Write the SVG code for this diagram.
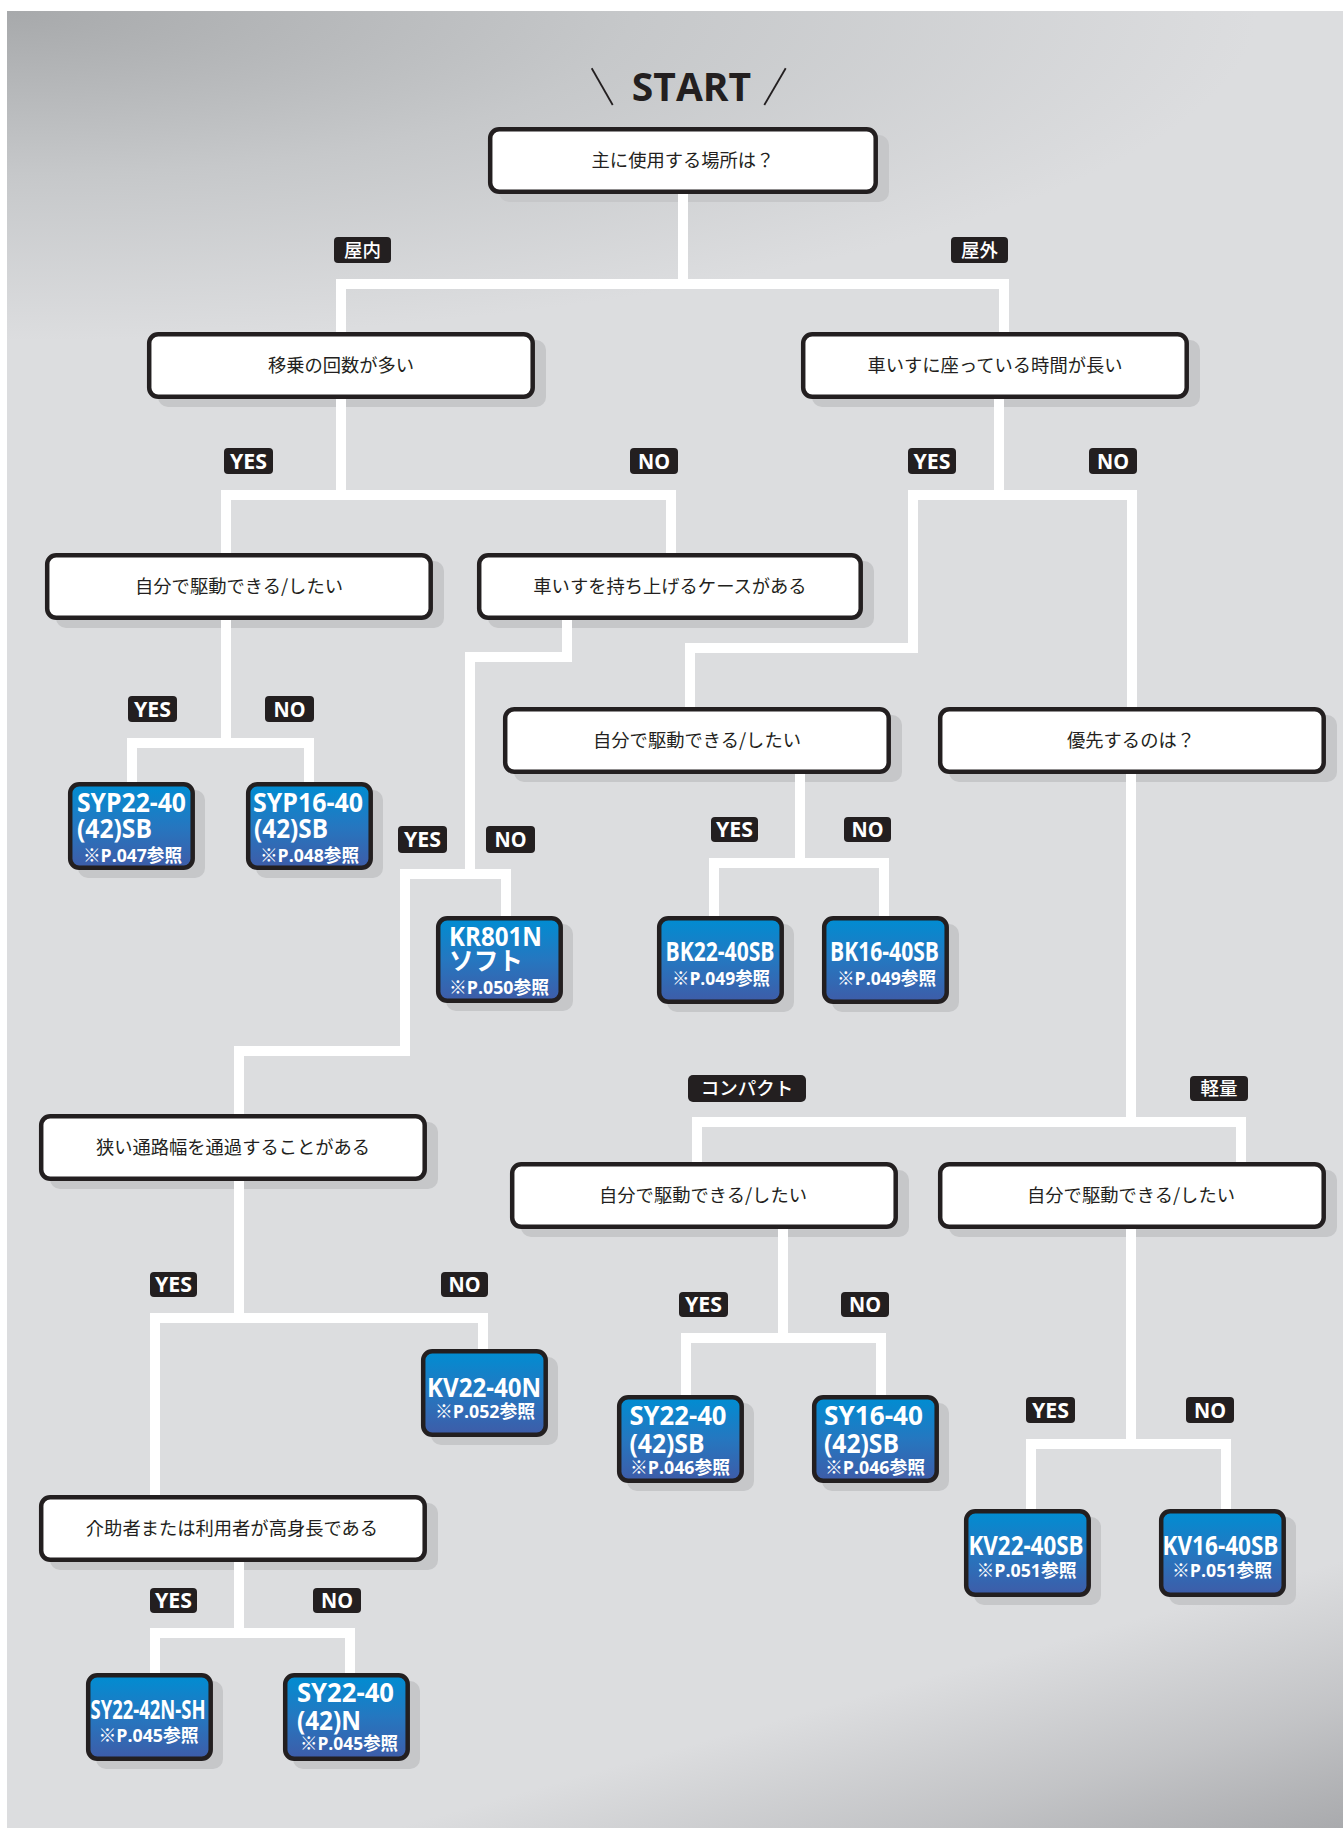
<svg xmlns="http://www.w3.org/2000/svg" width="1343" height="1828" viewBox="0 0 1343 1828">
<defs>
<radialGradient id="tl" gradientUnits="userSpaceOnUse" cx="0" cy="0" r="1" gradientTransform="translate(7,11) scale(1250,330)">
<stop offset="0" stop-color="#a7a9ab"/>
<stop offset="0.5" stop-color="#c6c8ca"/>
<stop offset="1" stop-color="#dcdddf"/>
</radialGradient>
<linearGradient id="br" gradientUnits="userSpaceOnUse" x1="1273" y1="1580" x2="1343" y2="1828">
<stop offset="0" stop-color="#a9aaad" stop-opacity="0"/>
<stop offset="0.55" stop-color="#a9aaad" stop-opacity="0.5"/>
<stop offset="1" stop-color="#a9aaad" stop-opacity="1"/>
</linearGradient>
<linearGradient id="blue" x1="0" y1="0" x2="0" y2="1">
<stop offset="0" stop-color="#008dd2"/>
<stop offset="0.5" stop-color="#2577c0"/>
<stop offset="1" stop-color="#3e5ca8"/>
</linearGradient>
<style>
.bx{fill:#fff;stroke:#231f20;stroke-width:4.5}
.sh{fill:#c6c7c9}
.pb{fill:url(#blue);stroke:#231f20;stroke-width:4.5}
.q{font-family:"Noto Sans CJK JP","Noto Sans",sans-serif;font-size:18.3px;fill:#231f20;text-anchor:middle}
.lb{fill:#231f20}
.lt{font-family:"Noto Sans CJK JP",sans-serif;font-size:18.5px;fill:#fff;text-anchor:middle;font-weight:500}
.yn{font-family:"Open Sans","Noto Sans",sans-serif;font-weight:700;font-size:21px;fill:#fff;text-anchor:middle}
.pn{font-family:"Open Sans","Noto Sans CJK JP",sans-serif;font-weight:700;font-size:27px;fill:#fff}
.pn2{font-family:"Open Sans","Noto Sans CJK JP",sans-serif;font-weight:700;font-size:26px;fill:#fff;text-anchor:middle}
.pr{font-family:"Open Sans","Noto Sans CJK JP",sans-serif;font-weight:700;font-size:18px;fill:#fff;text-anchor:middle}
.pk{font-family:"Noto Sans CJK JP",sans-serif;font-weight:700;font-size:25px;fill:#fff}
.cn{fill:none;stroke:#fff;stroke-width:10;stroke-linejoin:miter;stroke-linecap:butt}
.st{font-family:"Open Sans","Noto Sans",sans-serif;font-weight:700;font-size:39px;fill:#231f20;text-anchor:middle}
</style>
</defs>
<rect x="0" y="0" width="1343" height="1828" fill="#fff"/>
<rect x="7" y="11" width="1336" height="1817" fill="url(#tl)"/>
<rect x="7" y="11" width="1336" height="1817" fill="url(#br)"/>

<g id="start">
<text class="st" x="691.5" y="100.7">START</text>
<line x1="591.7" y1="68.3" x2="612.7" y2="105" stroke="#231f20" stroke-width="1.8"/>
<line x1="785.7" y1="68.3" x2="764.3" y2="105" stroke="#231f20" stroke-width="1.8"/>
</g>

<g id="shadows">
<rect class="sh" x="499" y="135" width="390" height="67" rx="10"/>
<rect class="sh" x="158" y="340" width="388" height="67" rx="10"/>
<rect class="sh" x="812" y="340" width="388" height="67" rx="10"/>
<rect class="sh" x="56" y="561" width="388" height="67" rx="10"/>
<rect class="sh" x="488" y="561" width="386" height="67" rx="10"/>
<rect class="sh" x="514" y="715" width="388" height="67" rx="10"/>
<rect class="sh" x="949" y="715" width="388" height="67" rx="10"/>
<rect class="sh" x="50" y="1122" width="388" height="67" rx="10"/>
<rect class="sh" x="521" y="1170" width="388" height="67" rx="10"/>
<rect class="sh" x="949" y="1170" width="388" height="67" rx="10"/>
<rect class="sh" x="50" y="1503" width="388" height="67" rx="10"/>
<rect class="sh" x="78" y="790" width="127" height="88" rx="10"/>
<rect class="sh" x="256" y="790" width="127" height="88" rx="10"/>
<rect class="sh" x="446" y="924" width="127" height="87" rx="10"/>
<rect class="sh" x="667" y="924" width="127" height="88" rx="10"/>
<rect class="sh" x="832" y="924" width="127" height="88" rx="10"/>
<rect class="sh" x="431" y="1357" width="127" height="88" rx="10"/>
<rect class="sh" x="627" y="1403" width="127" height="88" rx="10"/>
<rect class="sh" x="822" y="1403" width="127" height="88" rx="10"/>
<rect class="sh" x="974" y="1517" width="127" height="88" rx="10"/>
<rect class="sh" x="1169" y="1517" width="127" height="88" rx="10"/>
<rect class="sh" x="96" y="1681" width="127" height="88" rx="10"/>
<rect class="sh" x="293" y="1681" width="127" height="88" rx="10"/>
</g>

<g id="connectors">
<path class="cn" d="M683,194V284 M341,332V284H1004V332"/>
<path class="cn" d="M341,399V495 M226,553V495H671V553"/>
<path class="cn" d="M999,399V495 M690,707V648H913V495H1132V707"/>
<path class="cn" d="M226,620V743 M132,782V743H309V782"/>
<path class="cn" d="M567,620V657H470V874 M506,916V874H405V1051H239V1114"/>
<path class="cn" d="M800,774V863 M714,916V863H884V916"/>
<path class="cn" d="M1131,774V1122 M697,1162V1122H1241V1162"/>
<path class="cn" d="M239,1181V1318 M155,1495V1318H483V1349"/>
<path class="cn" d="M783,1229V1338 M686,1395V1338H881V1395"/>
<path class="cn" d="M1131,1229V1444 M1031,1509V1444H1226V1509"/>
<path class="cn" d="M239,1562V1633 M155,1673V1633H350V1673"/>
</g>

<g id="labels">
<rect class="lb" x="334" y="237" width="57" height="26" rx="4"/><text class="lt" x="362.5" y="256.5">屋内</text>
<rect class="lb" x="951" y="237" width="57" height="26" rx="4"/><text class="lt" x="979.5" y="256.5">屋外</text>
<rect class="lb" x="224" y="448" width="49" height="26" rx="4"/><text class="yn" x="248.5" y="468.5" textLength="37" lengthAdjust="spacingAndGlyphs">YES</text>
<rect class="lb" x="630" y="448" width="48" height="26" rx="4"/><text class="yn" x="654" y="468.5" textLength="32" lengthAdjust="spacingAndGlyphs">NO</text>
<rect class="lb" x="908" y="448" width="48" height="26" rx="4"/><text class="yn" x="932" y="468.5" textLength="37" lengthAdjust="spacingAndGlyphs">YES</text>
<rect class="lb" x="1089" y="448" width="48" height="26" rx="4"/><text class="yn" x="1113" y="468.5" textLength="32" lengthAdjust="spacingAndGlyphs">NO</text>
<rect class="lb" x="128" y="696" width="49" height="26" rx="4"/><text class="yn" x="152.5" y="716.5" textLength="37" lengthAdjust="spacingAndGlyphs">YES</text>
<rect class="lb" x="265" y="696" width="49" height="26" rx="4"/><text class="yn" x="289.5" y="716.5" textLength="32" lengthAdjust="spacingAndGlyphs">NO</text>
<rect class="lb" x="398" y="826" width="49" height="27" rx="4"/><text class="yn" x="422.5" y="847" textLength="37" lengthAdjust="spacingAndGlyphs">YES</text>
<rect class="lb" x="486" y="826" width="49" height="27" rx="4"/><text class="yn" x="510.5" y="847" textLength="32" lengthAdjust="spacingAndGlyphs">NO</text>
<rect class="lb" x="711" y="817" width="47" height="25" rx="4"/><text class="yn" x="734.5" y="837" textLength="37" lengthAdjust="spacingAndGlyphs">YES</text>
<rect class="lb" x="844" y="817" width="47" height="25" rx="4"/><text class="yn" x="867.5" y="837" textLength="32" lengthAdjust="spacingAndGlyphs">NO</text>
<rect class="lb" x="688" y="1075" width="118" height="27" rx="5"/><text class="lt" x="747" y="1095">コンパクト</text>
<rect class="lb" x="1190" y="1076" width="58" height="25" rx="4"/><text class="lt" x="1219" y="1095">軽量</text>
<rect class="lb" x="150" y="1272" width="47" height="25" rx="4"/><text class="yn" x="173.5" y="1292" textLength="37" lengthAdjust="spacingAndGlyphs">YES</text>
<rect class="lb" x="441" y="1272" width="47" height="25" rx="4"/><text class="yn" x="464.5" y="1292" textLength="32" lengthAdjust="spacingAndGlyphs">NO</text>
<rect class="lb" x="679" y="1292" width="49" height="25" rx="4"/><text class="yn" x="703.5" y="1312" textLength="37" lengthAdjust="spacingAndGlyphs">YES</text>
<rect class="lb" x="841" y="1292" width="48" height="25" rx="4"/><text class="yn" x="865" y="1312" textLength="32" lengthAdjust="spacingAndGlyphs">NO</text>
<rect class="lb" x="1026" y="1397" width="49" height="26" rx="4"/><text class="yn" x="1050.5" y="1417.5" textLength="37" lengthAdjust="spacingAndGlyphs">YES</text>
<rect class="lb" x="1186" y="1397" width="48" height="26" rx="4"/><text class="yn" x="1210" y="1417.5" textLength="32" lengthAdjust="spacingAndGlyphs">NO</text>
<rect class="lb" x="150" y="1588" width="47" height="25" rx="4"/><text class="yn" x="173.5" y="1608" textLength="37" lengthAdjust="spacingAndGlyphs">YES</text>
<rect class="lb" x="313" y="1588" width="48" height="25" rx="4"/><text class="yn" x="337" y="1608" textLength="32" lengthAdjust="spacingAndGlyphs">NO</text>
</g>

<g id="q1"><rect class="bx" x="490.2" y="129.2" width="385.5" height="62.5" rx="9"/><text class="q" x="683" y="167">主に使用する場所は？</text></g>
<g id="q2"><rect class="bx" x="149.2" y="334.2" width="383.5" height="62.5" rx="9"/><text class="q" x="341" y="372">移乗の回数が多い</text></g>
<g id="q3"><rect class="bx" x="803.2" y="334.2" width="383.5" height="62.5" rx="9"/><text class="q" x="995" y="372">車いすに座っている時間が長い</text></g>
<g id="q4"><rect class="bx" x="47.2" y="555.2" width="383.5" height="62.5" rx="9"/><text class="q" x="239" y="593">自分で駆動できる/したい</text></g>
<g id="q5"><rect class="bx" x="479.2" y="555.2" width="381.5" height="62.5" rx="9"/><text class="q" x="670" y="593">車いすを持ち上げるケースがある</text></g>
<g id="q6"><rect class="bx" x="505.2" y="709.2" width="383.5" height="62.5" rx="9"/><text class="q" x="697" y="747">自分で駆動できる/したい</text></g>
<g id="q7"><rect class="bx" x="940.2" y="709.2" width="383.5" height="62.5" rx="9"/><text class="q" x="1131" y="747">優先するのは？</text></g>
<g id="q8"><rect class="bx" x="41.2" y="1116.2" width="383.5" height="62.5" rx="9"/><text class="q" x="233" y="1154">狭い通路幅を通過することがある</text></g>
<g id="q9"><rect class="bx" x="512.2" y="1164.2" width="383.5" height="62.5" rx="9"/><text class="q" x="703" y="1202">自分で駆動できる/したい</text></g>
<g id="q10"><rect class="bx" x="940.2" y="1164.2" width="383.5" height="62.5" rx="9"/><text class="q" x="1131" y="1202">自分で駆動できる/したい</text></g>
<g id="q11"><rect class="bx" x="41.2" y="1497.2" width="383.5" height="62.5" rx="9"/><text class="q" x="232" y="1535">介助者または利用者が高身長である</text></g>

<g id="p1"><rect class="pb" x="70.2" y="784.2" width="122.5" height="83.5" rx="9"/>
<text class="pn" x="77" y="812" textLength="109" lengthAdjust="spacingAndGlyphs">SYP22-40</text>
<text class="pn" x="77" y="838" textLength="75" lengthAdjust="spacingAndGlyphs">(42)SB</text>
<text class="pr" x="132.5" y="862" textLength="99" lengthAdjust="spacingAndGlyphs">※P.047参照</text></g>
<g id="p2"><rect class="pb" x="248.2" y="784.2" width="122.5" height="83.5" rx="9"/>
<text class="pn" x="253" y="812" textLength="110" lengthAdjust="spacingAndGlyphs">SYP16-40</text>
<text class="pn" x="254" y="838" textLength="74" lengthAdjust="spacingAndGlyphs">(42)SB</text>
<text class="pr" x="309.5" y="862" textLength="99" lengthAdjust="spacingAndGlyphs">※P.048参照</text></g>
<g id="p3"><rect class="pb" x="438.2" y="918.2" width="122.5" height="82.5" rx="9"/>
<text class="pn" x="449" y="946" textLength="93" lengthAdjust="spacingAndGlyphs">KR801N</text>
<text class="pk" x="449" y="970" textLength="74" lengthAdjust="spacingAndGlyphs">ソフト</text>
<text class="pr" x="499" y="994" textLength="100" lengthAdjust="spacingAndGlyphs">※P.050参照</text></g>
<g id="p4"><rect class="pb" x="659.2" y="918.2" width="122.5" height="83.5" rx="9"/>
<text class="pn2" x="720" y="961" textLength="109" lengthAdjust="spacingAndGlyphs">BK22-40SB</text>
<text class="pr" x="721" y="985" textLength="98" lengthAdjust="spacingAndGlyphs">※P.049参照</text></g>
<g id="p5"><rect class="pb" x="824.2" y="918.2" width="122.5" height="83.5" rx="9"/>
<text class="pn2" x="884.5" y="961" textLength="109" lengthAdjust="spacingAndGlyphs">BK16-40SB</text>
<text class="pr" x="886.5" y="985" textLength="99" lengthAdjust="spacingAndGlyphs">※P.049参照</text></g>
<g id="p6"><rect class="pb" x="423.2" y="1351.2" width="122.5" height="83.5" rx="9"/>
<text class="pn2" x="484" y="1397" textLength="114" lengthAdjust="spacingAndGlyphs">KV22-40N</text>
<text class="pr" x="485" y="1418" textLength="100" lengthAdjust="spacingAndGlyphs">※P.052参照</text></g>
<g id="p7"><rect class="pb" x="619.2" y="1397.2" width="122.5" height="83.5" rx="9"/>
<text class="pn" x="629.5" y="1425" textLength="97" lengthAdjust="spacingAndGlyphs">SY22-40</text>
<text class="pn" x="629.5" y="1453" textLength="75" lengthAdjust="spacingAndGlyphs">(42)SB</text>
<text class="pr" x="680" y="1474" textLength="100" lengthAdjust="spacingAndGlyphs">※P.046参照</text></g>
<g id="p8"><rect class="pb" x="814.2" y="1397.2" width="122.5" height="83.5" rx="9"/>
<text class="pn" x="824" y="1425" textLength="99" lengthAdjust="spacingAndGlyphs">SY16-40</text>
<text class="pn" x="824" y="1453" textLength="75" lengthAdjust="spacingAndGlyphs">(42)SB</text>
<text class="pr" x="875" y="1474" textLength="100" lengthAdjust="spacingAndGlyphs">※P.046参照</text></g>
<g id="p9"><rect class="pb" x="966.2" y="1511.2" width="122.5" height="83.5" rx="9"/>
<text class="pn2" x="1026" y="1555" textLength="115" lengthAdjust="spacingAndGlyphs">KV22-40SB</text>
<text class="pr" x="1026.5" y="1577" textLength="100" lengthAdjust="spacingAndGlyphs">※P.051参照</text></g>
<g id="p10"><rect class="pb" x="1161.2" y="1511.2" width="122.5" height="83.5" rx="9"/>
<text class="pn2" x="1220.5" y="1555" textLength="116" lengthAdjust="spacingAndGlyphs">KV16-40SB</text>
<text class="pr" x="1222" y="1577" textLength="100" lengthAdjust="spacingAndGlyphs">※P.051参照</text></g>
<g id="p11"><rect class="pb" x="88.2" y="1675.2" width="122.5" height="83.5" rx="9"/>
<text class="pn2" x="148" y="1719" textLength="115" lengthAdjust="spacingAndGlyphs">SY22-42N-SH</text>
<text class="pr" x="148.5" y="1742" textLength="100" lengthAdjust="spacingAndGlyphs">※P.045参照</text></g>
<g id="p12"><rect class="pb" x="285.2" y="1675.2" width="122.5" height="83.5" rx="9"/>
<text class="pn" x="297" y="1702" textLength="97" lengthAdjust="spacingAndGlyphs">SY22-40</text>
<text class="pn" x="297" y="1730" textLength="64" lengthAdjust="spacingAndGlyphs">(42)N</text>
<text class="pr" x="349" y="1750" textLength="98" lengthAdjust="spacingAndGlyphs">※P.045参照</text></g>
</svg>
